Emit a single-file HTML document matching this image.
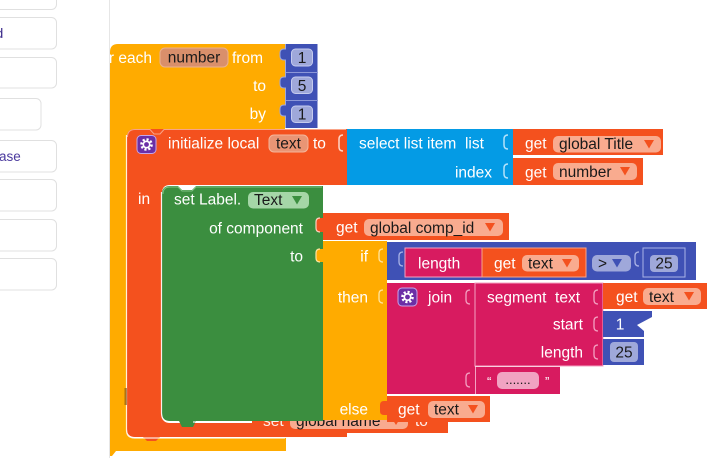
<!DOCTYPE html>
<html><head><meta charset="utf-8"><style>
html,body{margin:0;padding:0;background:#fff;width:720px;height:458px;overflow:hidden}
svg{display:block}
text{font-family:"Liberation Sans",Arial,sans-serif;font-size:15.5px}
.w{fill:#fff}
.k{fill:#1a1a1a}
</style></head><body>
<svg width="720" height="458" viewBox="0 0 720 458" xmlns="http://www.w3.org/2000/svg">
<defs><clipPath id="ws"><rect x="110" y="0" width="610" height="458"/></clipPath></defs>

<!-- sidebar -->
<g fill="#fff" stroke="#e0e0e0" stroke-width="1">
<rect x="-8" y="-10" width="64.5" height="19.5" rx="5"/>
<rect x="-8" y="17.5" width="64.5" height="31.5" rx="5"/>
<rect x="-8" y="57.5" width="64.5" height="30.5" rx="5"/>
<rect x="-8" y="98.5" width="49" height="31.5" rx="5"/>
<rect x="-8" y="140.5" width="64.5" height="31.5" rx="5"/>
<rect x="-8" y="179.5" width="64.5" height="31.5" rx="5"/>
<rect x="-8" y="219.5" width="64.5" height="31.5" rx="5"/>
<rect x="-8" y="258.5" width="64.5" height="31.5" rx="5"/>
</g>
<text x="-4.5" y="38" style="font-size:14px;fill:#3d2d8c">d</text>
<text x="-1" y="161" style="font-size:13.5px;fill:#4b3a9e">ase</text>
<line x1="109.5" y1="0" x2="109.5" y2="458" stroke="#e6e6e6" stroke-width="1"/>

<g clip-path="url(#ws)">
<!-- for each (orange) -->
<path d="M110,52 Q110,44 118,44 L285,44 L285,130 L135,130 Q127,130 127,138 L127,430 Q127,438 135,438 L286,438 L286,451 L116,451 L112,456 L110,456 Z" fill="#ffab00"/>
<text x="96" y="63" class="w">for each</text>
<rect x="160" y="48" width="68" height="19" rx="5" fill="#d98f6b" stroke="#eab08f"/>
<text x="194" y="62.5" class="k" text-anchor="middle">number</text>
<text x="232" y="63" class="w">from</text>
<text x="266" y="91" class="w" text-anchor="end">to</text>
<text x="266" y="119" class="w" text-anchor="end">by</text>

<!-- number blocks -->
<rect x="285.5" y="44" width="32" height="84" fill="#3f51b5"/>
<line x1="286" y1="72.5" x2="318" y2="72.5" stroke="#8c97d8"/>
<line x1="286" y1="100.5" x2="318" y2="100.5" stroke="#8c97d8"/>
<g fill="#3f51b5" stroke="#9aa5e0" stroke-width="1">
<path d="M286,49 h-2 q-4,0 -4,4 v3 q0,4 4,4 h2"/>
<path d="M286,77 h-2 q-4,0 -4,4 v3 q0,4 4,4 h2"/>
<path d="M286,105 h-2 q-4,0 -4,4 v3 q0,4 4,4 h2"/>
</g>
<g fill="#9fa8da" stroke="#c5cbee">
<rect x="291.5" y="49" width="21" height="17" rx="4"/>
<rect x="291.5" y="77" width="21" height="16.5" rx="4"/>
<rect x="291.5" y="106" width="21" height="16.5" rx="4"/>
</g>
<text x="302" y="63" class="k" text-anchor="middle">1</text>
<text x="302" y="91" class="k" text-anchor="middle">5</text>
<text x="302" y="119.5" class="k" text-anchor="middle">1</text>

<!-- initialize local (red) -->
<path d="M127,137 Q127,129 135,129 L347,129 L347,185 L170,185 Q162,185 162,193 L162,415 Q162,423 170,423 L347,423 L347,437 L160,437 L156,441 L147,441 L143,437 L135,437 Q127,437 127,429 Z" fill="#f4511e"/>
<path d="M127.5,137 Q127.5,129.5 135,129.5 L150,129.5 L154,134 L160,134 L164,129.5 L346,129.5" fill="none" stroke="#f9a488" stroke-width="1"/>
<path d="M126.5,135 V430 Q126.5,438 134.5,438 H285" fill="none" stroke="#fff" stroke-opacity="0.85" stroke-width="1.2"/>
<rect x="124.5" y="388" width="2.5" height="17" fill="#7a4a10" opacity="0.6"/>
<rect x="137" y="135.5" width="19" height="18" rx="4" fill="#6b2fa6" stroke="#c4a5ea"/>
<circle cx="146.5" cy="144.5" r="5" fill="none" stroke="#fff" stroke-width="2.6" stroke-dasharray="2.1 1.8"/>
<circle cx="146.5" cy="144.5" r="3.2" fill="none" stroke="#fff" stroke-width="1.6"/>
<text x="168" y="148.5" class="w">initialize local</text>
<rect x="269" y="135" width="39" height="17" rx="5" fill="#e99575" stroke="#f5b59a"/>
<text x="288.5" y="148.5" class="k" text-anchor="middle">text</text>
<text x="313" y="148.5" class="w">to</text>
<path d="M343,135 q-4,0 -4,4 v8 q0,4 4,4" fill="none" stroke="#ffd6c8" stroke-width="1.5"/>
<text x="138" y="204" class="w">in</text>

<!-- select list item (light blue) -->
<rect x="347" y="129" width="166" height="56" fill="#049be5"/>
<text x="359" y="148.5" class="w" xml:space="preserve">select list item  list</text>
<text x="492" y="177.5" class="w" text-anchor="end">index</text>
<path d="M508,135 q-4,0 -4,4 v6 q0,4 4,4" fill="none" stroke="#b3e2fa" stroke-width="1.5"/>
<path d="M508,164 q-4,0 -4,4 v6 q0,4 4,4" fill="none" stroke="#b3e2fa" stroke-width="1.5"/>

<!-- get global Title -->
<rect x="513" y="129" width="150" height="26" fill="#f4511e"/>
<text x="525" y="148.5" class="w">get</text>
<rect x="553" y="136" width="108" height="16.5" rx="5" fill="#f9ab8f"/>
<text x="559" y="149" class="k">global Title</text>
<polygon points="644,140 654,140 649,148.5" fill="#f4511e"/>
<!-- get number -->
<rect x="513" y="158" width="130" height="27" fill="#f4511e"/>
<text x="525" y="177.5" class="w">get</text>
<rect x="553" y="163" width="84" height="17" rx="5" fill="#f9ab8f"/>
<text x="559" y="177" class="k">number</text>
<polygon points="620,167 630,167 625,175.5" fill="#f4511e"/>

<!-- set global name (behind) -->
<rect x="252" y="402" width="196" height="31" fill="#f4511e"/>
<rect x="270" y="433" width="12" height="4" fill="#f4511e"/>
<text x="263" y="426" class="w" opacity="0.9">set</text>
<rect x="290" y="413" width="118" height="16" rx="5" fill="#f9ab8f"/>
<text x="296" y="426" class="k">global name</text>
<polygon points="391,417 401,417 396,425" fill="#f4511e"/>
<text x="415" y="426" class="w" opacity="0.9">to</text>

<!-- set Label.Text (green) -->
<path d="M162,194 Q162,186 170,186 L178,186 L182,190 L192,190 L196,186 L323,186 L323,421 L196,421 L193,427 L182,427 L179,421 L170,421 Q162,421 162,413 Z" fill="#3b8e3f"/>
<path d="M161.5,192 V413 Q161.5,422 170,422 H179 M193,422 H252" fill="none" stroke="#fff" stroke-opacity="0.9" stroke-width="1.2"/>
<path d="M163,194 Q163,187 170,187 L178,187 L182,191 L192,191 L196,187 L322,187" fill="none" stroke="#7fc383" stroke-width="1"/>
<text x="174" y="204.5" class="w">set Label.</text>
<rect x="248" y="192" width="61" height="16.5" rx="5" fill="#a5d6a7"/>
<text x="254" y="205" class="k">Text</text>
<polygon points="292,196 302,196 297,204.5" fill="#3b8e3f"/>
<text x="303" y="233.5" class="w" text-anchor="end">of component</text>
<text x="303" y="261.5" class="w" text-anchor="end">to</text>

<!-- get global comp_id -->
<rect x="323" y="213" width="186" height="27" fill="#f4511e"/>
<path d="M323,218 h-3 q-4,0 -4,4 v6 q0,4 4,4 h3 z" fill="#f4511e"/>
<path d="M320,218 q-4,0 -4,4 v6 q0,4 4,4" fill="none" stroke="#ffd0bf" stroke-width="1.2"/>
<text x="336" y="232.5" class="w">get</text>
<rect x="364" y="219" width="139" height="17" rx="5" fill="#f9ab8f"/>
<text x="370" y="233" class="k">global comp_id</text>
<polygon points="485,223 495,223 490,231.5" fill="#f4511e"/>

<!-- if block (orange) -->
<rect x="323" y="241" width="64" height="179" fill="#ffab00"/>
<path d="M323,249 h-3 q-4,0 -4,4 v5 q0,4 4,4 h3 z" fill="#ffab00"/>
<path d="M320,249 q-4,0 -4,4 v5 q0,4 4,4" fill="none" stroke="#ffe4a0" stroke-width="1.2"/>
<text x="368" y="261.5" class="w" text-anchor="end">if</text>
<text x="368" y="302.5" class="w" text-anchor="end">then</text>
<text x="368" y="414.5" class="w" text-anchor="end">else</text>
<path d="M383,249 q-4,0 -4,4 v5 q0,4 4,4" fill="none" stroke="#ffe4a0" stroke-width="1.3"/>
<path d="M383,290 q-4,0 -4,4 v5 q0,4 4,4" fill="none" stroke="#ffe4a0" stroke-width="1.3"/>

<!-- compare (dark blue) -->
<rect x="387" y="242" width="309" height="38" fill="#3f51b5"/>
<path d="M403,252 q-4,0 -4,4 v6 q0,4 4,4" fill="none" stroke="#aab3e6" stroke-width="1.3"/>
<rect x="405" y="248" width="77" height="29" fill="#d81b60" stroke="#f3a2c2" stroke-width="1"/>
<text x="418" y="268.5" class="w">length</text>
<path d="M490,252 q-4,0 -4,4 v6 q0,4 4,4" fill="none" stroke="#f3a2c2" stroke-width="1.3"/>
<rect x="482" y="248" width="104" height="29" fill="#f4511e" stroke="#f9a488" stroke-width="1"/>
<text x="494" y="268.5" class="w">get</text>
<rect x="522" y="255" width="57" height="16.5" rx="5" fill="#f9ab8f"/>
<text x="528" y="268.5" class="k">text</text>
<polygon points="562,259 572,259 567,267.5" fill="#f4511e"/>
<rect x="592" y="255" width="39" height="16.5" rx="5" fill="#9fa8da"/>
<text x="598" y="268.5" class="k">&gt;</text>
<polygon points="612,259 622,259 617,267.5" fill="#3f51b5"/>
<path d="M639,252 q-4,0 -4,4 v6 q0,4 4,4" fill="none" stroke="#aab3e6" stroke-width="1.3"/>
<rect x="643" y="248" width="42" height="29" fill="#3f51b5" stroke="#aab3e6" stroke-width="1"/>
<rect x="650" y="255" width="28" height="17" rx="4" fill="#9fa8da"/>
<text x="664" y="268.5" class="k" text-anchor="middle">25</text>

<!-- join (magenta) -->
<rect x="387" y="283" width="88" height="111" fill="#d81b60"/>
<rect x="398" y="288" width="19" height="18" rx="4" fill="#6b2fa6" stroke="#c4a5ea"/>
<circle cx="407.5" cy="297" r="5" fill="none" stroke="#fff" stroke-width="2.6" stroke-dasharray="2.1 1.8"/>
<circle cx="407.5" cy="297" r="3.2" fill="none" stroke="#fff" stroke-width="1.6"/>
<text x="428" y="302.5" class="w">join</text>
<path d="M470,290 q-4,0 -4,4 v6 q0,4 4,4" fill="none" stroke="#f3a2c2" stroke-width="1.3"/>
<path d="M470,373 q-4,0 -4,4 v6 q0,4 4,4" fill="none" stroke="#f3a2c2" stroke-width="1.3"/>

<!-- segment -->
<rect x="475" y="283" width="128" height="83" fill="#d81b60" stroke="#f3a2c2" stroke-width="1"/>
<text x="487" y="302.5" class="w" xml:space="preserve">segment  text</text>
<text x="583" y="329.5" class="w" text-anchor="end">start</text>
<text x="583" y="357.5" class="w" text-anchor="end">length</text>
<path d="M598,290 q-4,0 -4,4 v6 q0,4 4,4" fill="none" stroke="#f3a2c2" stroke-width="1.3"/>
<path d="M598,317 q-4,0 -4,4 v6 q0,4 4,4" fill="none" stroke="#f3a2c2" stroke-width="1.3"/>
<path d="M598,345 q-4,0 -4,4 v6 q0,4 4,4" fill="none" stroke="#f3a2c2" stroke-width="1.3"/>

<!-- get text (segment) -->
<rect x="603" y="283" width="104" height="26" fill="#f4511e"/>
<text x="616" y="302" class="w">get</text>
<rect x="643" y="288" width="58" height="17" rx="5" fill="#f9ab8f"/>
<text x="649" y="302" class="k">text</text>
<polygon points="684,292 694,292 689,300.5" fill="#f4511e"/>

<!-- 1 block -->
<polygon points="603,311 652,311 652,317 637,325 644,331 644,337 603,337" fill="#3f51b5"/>
<text x="620" y="329.5" class="w" text-anchor="middle">1</text>

<!-- 25 block -->
<rect x="603" y="339" width="41" height="26" fill="#3f51b5"/>
<rect x="610" y="342" width="28" height="20" rx="4" fill="#9fa8da"/>
<text x="624" y="357.5" class="k" text-anchor="middle">25</text>

<!-- string -->
<rect x="475" y="367" width="85" height="27" fill="#d81b60"/>
<line x1="475.5" y1="367" x2="475.5" y2="394" stroke="#f3a2c2"/>
<text x="487" y="386" class="w" style="font-size:13px">“</text>
<rect x="497" y="372" width="42" height="17" rx="5" fill="#f1a3c2"/>
<text x="518" y="384" class="k" text-anchor="middle" style="font-size:13px">.......</text>
<text x="545" y="386" class="w" style="font-size:13px">”</text>

<!-- else get text -->
<path d="M387,401 h-3 q-4,0 -4,4 v6 q0,4 4,4 h3 z" fill="#f4511e"/>
<rect x="387" y="396" width="103" height="26" fill="#f4511e"/>
<text x="398" y="414.5" class="w">get</text>
<rect x="428" y="401" width="57" height="17" rx="5" fill="#f9ab8f"/>
<text x="434" y="414.5" class="k">text</text>
<polygon points="468,405 478,405 473,413.5" fill="#f4511e"/>
<path d="M440,422 h8 v4 h-3 l-2,3 h-3 z" fill="#f4511e"/>
</g>
</svg>
</body></html>
